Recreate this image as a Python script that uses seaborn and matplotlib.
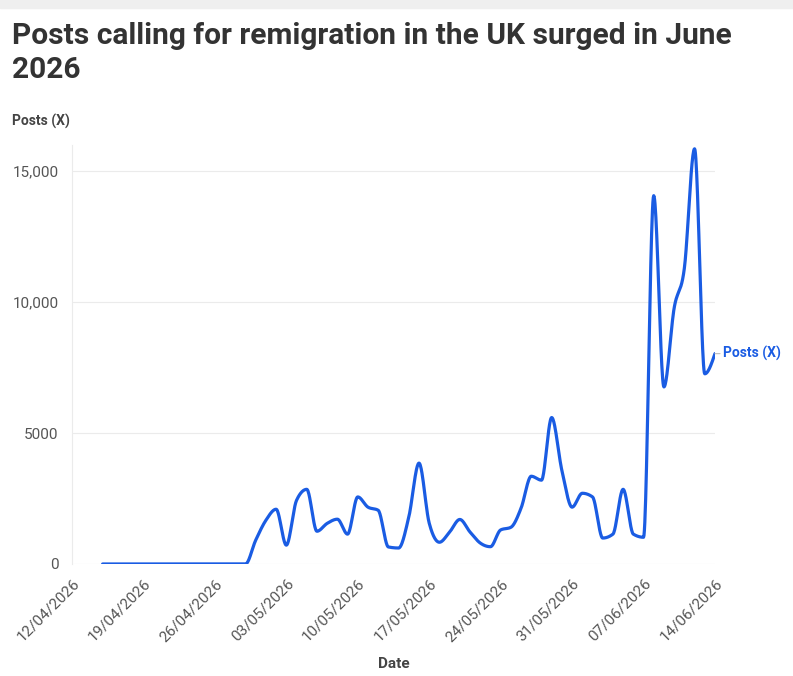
import numpy as np
import pandas as pd
import matplotlib
matplotlib.use("Agg")
import matplotlib.pyplot as plt
import seaborn as sns

# Daily posts (X) mentioning remigration
start_date = "2026-04-15"
end_date = "2026-06-14"
posts = [
    0, 0, 0, 0, 0, 0, 0, 0, 0, 0, 0, 0, 0, 0, 0,          # 15/04 - 29/04
    910, 1670, 2090, 720, 2430, 2850, 1250, 1550, 1710, 1140,   # 30/04 - 09/05
    2560, 2170, 2050, 650, 610, 1790, 3850, 1560, 830, 1220,    # 10/05 - 19/05
    1700, 1220, 800, 660, 1300, 1400, 2130, 3350, 3200, 5590,   # 20/05 - 29/05
    3570, 2170, 2700, 2560, 990, 1140, 2850, 1140, 1020, 14060, # 30/05 - 08/06
    6760, 9770, 11290, 15850, 7260, 8030,                       # 09/06 - 14/06
]
tick_dates = pd.date_range("2026-04-12", "2026-06-14", freq="7D")
y_ticks = [0, 5000, 10000, 15000]
y_tick_labels = ["0", "5000", "10,000", "15,000"]

TITLE = "Posts calling for remigration in the UK surged in June\n2026"
SERIES = "Posts (X)"
BLUE = "#1a5ce3"
GREY_TEXT = "#555555"
GRID = "#ebebeb"


def monotone_x(x, y, steps=24):
    """Monotone cubic (d3 curveMonotoneX style) through the points."""
    x = np.asarray(x, float)
    y = np.asarray(y, float)
    h = np.diff(x)
    s = np.diff(y) / h
    m = np.zeros_like(y)
    for i in range(1, len(y) - 1):
        s0, s1 = s[i - 1], s[i]
        p = (s0 * h[i] + s1 * h[i - 1]) / (h[i - 1] + h[i])
        m[i] = (np.sign(s0) + np.sign(s1)) * min(abs(s0), abs(s1), 0.5 * abs(p))
    m[0] = (3 * s[0] - m[1]) / 2
    m[-1] = (3 * s[-1] - m[-2]) / 2
    xs, ys = [], []
    for i in range(len(x) - 1):
        t = np.linspace(0, 1, steps, endpoint=False)
        h00 = 2 * t**3 - 3 * t**2 + 1
        h10 = t**3 - 2 * t**2 + t
        h01 = -2 * t**3 + 3 * t**2
        h11 = t**3 - t**2
        xs.append(x[i] + t * h[i])
        ys.append(h00 * y[i] + h10 * h[i] * m[i] + h01 * y[i + 1] + h11 * h[i] * m[i + 1])
    xs.append([x[-1]])
    ys.append([y[-1]])
    return np.concatenate(xs), np.concatenate(ys)


sns.set_theme(style="white")
plt.rcParams["font.family"] = ["Roboto", "DejaVu Sans"]

dates = pd.date_range(start_date, end_date, freq="D")
df = pd.DataFrame({"date": dates, "posts": posts})

# smooth curve in day units, then back to timestamps
day_num = (df["date"] - df["date"].iloc[0]).dt.days.to_numpy()
sx, sy = monotone_x(day_num, df["posts"].to_numpy())
smooth = pd.DataFrame({
    "date": df["date"].iloc[0] + pd.to_timedelta(sx, unit="D"),
    "posts": sy,
})

fig = plt.figure(figsize=(7.93, 6.76), dpi=100)
fig.patches.append(plt.Rectangle((0, 0.988), 1, 0.012, transform=fig.transFigure,
                                 color="#efefef", zorder=0))
ax = fig.add_axes([0.0908, 0.1657, 0.8108, 0.62])

sns.lineplot(data=smooth, x="date", y="posts", ax=ax, color=BLUE,
             linewidth=2.3, estimator=None, sort=False)

ax.set_xlim(tick_dates[0], tick_dates[-1])
ax.set_ylim(0, 16000)
ax.set_yticks(y_ticks)
ax.set_yticklabels(y_tick_labels)
ax.set_xticks(tick_dates)
ax.set_xticklabels([d.strftime("%d/%m/%Y") for d in tick_dates],
                   rotation=45, ha="right", rotation_mode="anchor")
ax.tick_params(axis="both", colors="#cccccc", labelcolor=GREY_TEXT,
               labelsize=11, length=6, width=0.8)
ax.tick_params(axis="x", pad=3)
ax.grid(axis="y", color=GRID, linewidth=0.8)
ax.set_axisbelow(True)
for side in ["top", "right", "bottom"]:
    ax.spines[side].set_visible(False)
ax.spines["left"].set_color(GRID)
ax.spines["left"].set_linewidth(0.8)

ax.set_ylabel("")
ax.set_xlabel("Date", fontsize=11, fontweight="bold", color="#444444", labelpad=9)

# direct label at the end of the line
ax.annotate(SERIES, xy=(df["date"].iloc[-1], df["posts"].iloc[-1]),
            xytext=(6, 0), textcoords="offset points", va="center", ha="left",
            color=BLUE, fontsize=10, fontweight="bold", annotation_clip=False,
            arrowprops=dict(arrowstyle="-", color="#bbbbbb", lw=0.8,
                            shrinkA=0, shrinkB=0))

fig.text(0.015, 0.968, TITLE, ha="left", va="top", fontsize=21.5,
         fontweight="bold", color="#333333", linespacing=1.28)
fig.text(0.015, 0.821, SERIES, ha="left", va="center", fontsize=10,
         fontweight="bold", color="#444444")

plt.savefig("out.png", dpi=100)
plt.close()
